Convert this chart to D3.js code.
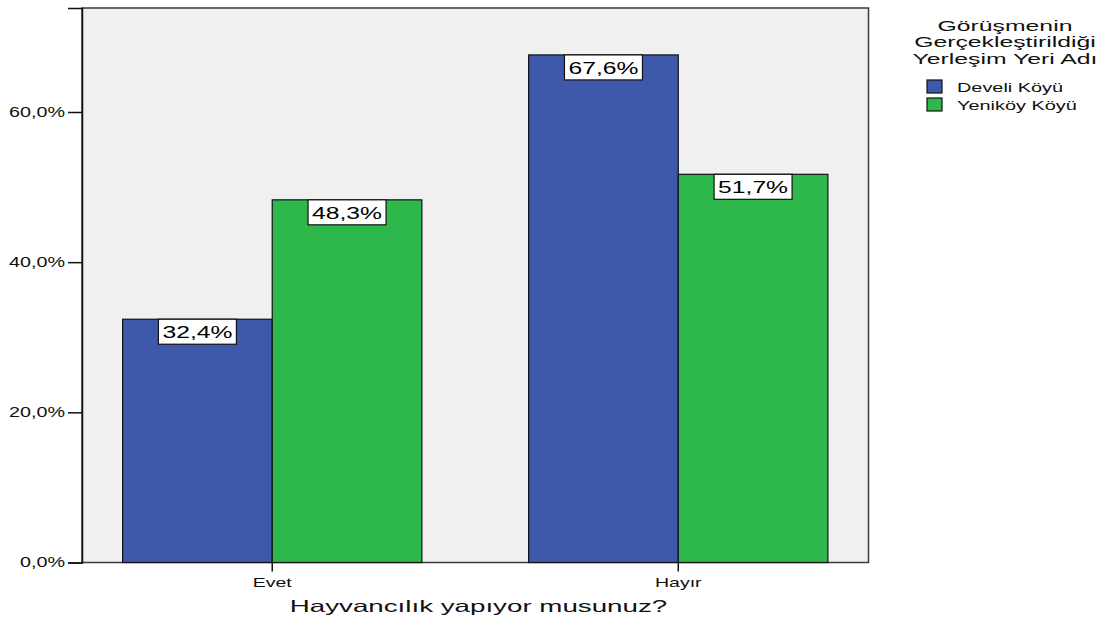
<!DOCTYPE html>
<html><head><meta charset="utf-8">
<script src="https://cdn.jsdelivr.net/npm/d3@7"></script>
<style>body{margin:0;background:#fff;} text{font-family:Arial,"Liberation Sans",sans-serif;}</style>
</head><body>
<svg id="c" width="1109" height="621"></svg>
<script>
const categories = ["Evet", "Hayır"];
const seriesNames = ["Develi Köyü", "Yeniköy Köyü"];
const develi = [32.4, 67.6];
const yenikoy = [48.3, 51.7];
const yTicks = [0, 20, 40, 60];
const colors = ["#3e58ac", "#2eb84c"];
const xTitle = "Hayvancılık yapıyor musunuz?";
const legendTitle = ["Görüşmenin", "Gerçekleştirildiği", "Yerleşim Yeri Adı"];

const values = [develi, yenikoy];
const svg = d3.select("#c");
const L = 82, R = 868.5, T = 8, B = 562.5;
const x = d3.scaleBand().domain(categories).range([L, R]).paddingInner(0.263).paddingOuter(0.1);
const xs = d3.scaleBand().domain(seriesNames).range([0, x.bandwidth()]);
const y = d3.scaleLinear().domain([0, 73.85]).range([B, T]);
const fmt = v => d3.format(".1f")(v).replace(".", ",") + "%";

function stretch(sel, f) {
  sel.each(function () {
    const w = this.getComputedTextLength();
    d3.select(this).attr("textLength", w * f).attr("lengthAdjust", "spacingAndGlyphs");
  });
}

svg.append("rect").attr("x", L).attr("y", T).attr("width", R - L).attr("height", B - T)
  .attr("fill", "#f0f0f0").attr("stroke", "#3a3a3a").attr("stroke-width", 1.5);

const data = [];
categories.forEach((c, i) => seriesNames.forEach((s, j) => data.push({c, s, j, v: values[j][i]})));

svg.selectAll(".bar").data(data).enter().append("rect")
  .attr("x", d => x(d.c) + xs(d.s)).attr("y", d => y(d.v))
  .attr("width", xs.bandwidth()).attr("height", d => B - y(d.v))
  .attr("fill", d => colors[d.j]).attr("stroke", "#111").attr("stroke-width", 1.2);

// labels
const lg = svg.selectAll(".lab").data(data).enter().append("g");
lg.append("rect")
  .attr("x", d => x(d.c) + xs(d.s) + xs.bandwidth() / 2 - 39).attr("y", d => y(d.v))
  .attr("width", 78).attr("height", 25).attr("fill", "#fff").attr("stroke", "#111").attr("stroke-width", 1.2);
const lt = lg.append("text")
  .attr("x", d => x(d.c) + xs(d.s) + xs.bandwidth() / 2).attr("y", d => y(d.v) + 19)
  .attr("text-anchor", "middle").attr("font-size", 17).attr("fill", "#000").text(d => fmt(d.v));
stretch(lt, 1.45);

// y axis
const ya = svg.append("g").attr("transform", `translate(${L},0)`)
  .call(d3.axisLeft(y).tickValues(yTicks).tickSize(14).tickPadding(3).tickFormat(v => d3.format(".1f")(v).replace(".", ",") + "%"));
ya.select(".domain").attr("stroke", "#111").attr("stroke-width", 1.5);
ya.selectAll(".tick line").attr("stroke", "#111").attr("stroke-width", 1.5);
const yt = ya.selectAll(".tick text").attr("font-size", 14).attr("fill", "#111").style("font-family", "Arial, 'Liberation Sans', sans-serif");
stretch(yt, 1.41);

// x axis
const xa = svg.append("g").attr("transform", `translate(0,${B})`)
  .call(d3.axisBottom(x).tickSize(9).tickSizeOuter(0));
xa.select(".domain").remove();
xa.selectAll(".tick line").attr("stroke", "#111").attr("stroke-width", 1.5);
const xt = xa.selectAll(".tick text").attr("font-size", 13).attr("fill", "#111").attr("dy", "0.95em").style("font-family", "Arial, 'Liberation Sans', sans-serif");
stretch(xt, 1.5);

const xtt = svg.append("text").attr("x", 478.5).attr("y", 612).attr("text-anchor", "middle")
  .attr("font-size", 16.5).attr("fill", "#111").text(xTitle);
stretch(xtt, 1.68);

// legend
const ltt = svg.selectAll(".lt").data(legendTitle).enter().append("text")
  .attr("x", 1005).attr("y", (d, i) => 30.5 + i * 16.5).attr("text-anchor", "middle")
  .attr("font-size", 15).attr("fill", "#111").text(d => d);
stretch(ltt, 1.65);
const li = svg.selectAll(".li").data(seriesNames).enter().append("g")
  .attr("transform", (d, i) => `translate(927,${80 + i * 18})`);
li.append("rect").attr("width", 15).attr("height", 13).attr("fill", (d, i) => colors[i]).attr("stroke", "#111").attr("stroke-width", 1.2);
const lit = li.append("text").attr("x", 30).attr("y", 11.5).attr("font-size", 13).attr("fill", "#111").text(d => d);
stretch(lit, 1.53);
</script>
</body></html>
